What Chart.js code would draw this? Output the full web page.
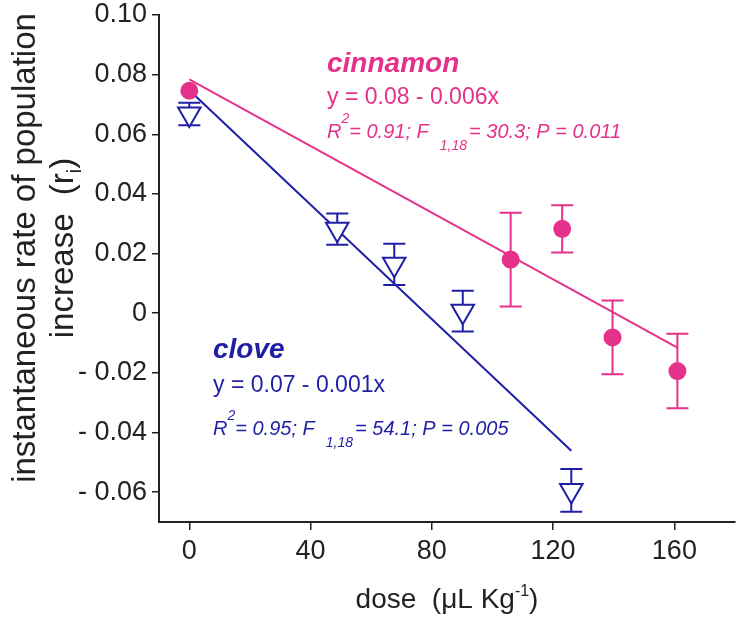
<!DOCTYPE html>
<html>
<head>
<meta charset="utf-8">
<script src="https://cdn.jsdelivr.net/npm/chart.js@4"></script>
<style>
  html, body { margin: 0; padding: 0; background: #fff; }
  #wrap { width: 750px; height: 624px; }
</style>
</head>
<body>
<div id="wrap"><canvas id="chart" width="750" height="624"></canvas></div>
<script>
// values
const cinnamonDose = [0, 106, 123, 139.6, 161];
const cinnamonR = [0.0746, 0.018, 0.0283, -0.0081, -0.0194];
const cinnamonErr = [0, 0.0157, 0.0079, 0.0124, 0.0125];
const cloveDose = [0, 48.8, 67.6, 90.2, 126];
const cloveR = [0.0668, 0.0282, 0.0164, 0.0007, -0.0594];
const cloveErr = [0.0038, 0.0052, 0.0069, 0.0068, 0.0072];
// regression lines (end points)
const cinnamonFitX = [0, 161];
const cinnamonFitY = [0.0784, -0.0115];
const cloveFitX = [0, 126];
const cloveFitY = [0.0748, -0.0461];
const xTicks = [0, 40, 80, 120, 160];
const yTicks = [-0.06, -0.04, -0.02, 0, 0.02, 0.04, 0.06, 0.08, 0.10];
const yTickLabels = ["- 0.06", "- 0.04", "- 0.02", "0", "0.02", "0.04", "0.06", "0.08", "0.10"];

const pink = "#e5318a";
const blue = "#1f1fa6";
const ink = "#222";
const family = "'Liberation Sans', Arial, sans-serif";

function pts(xs, ys) {
  return xs.map((x, i) => ({ x: x, y: ys[i] }));
}

function runsWidth(ctx, runs) {
  let w = 0;
  runs.forEach(r => {
    ctx.font = r.font;
    w += (r.dx || 0) + ctx.measureText(r.t).width;
  });
  return w;
}

function drawRuns(ctx, x, y, runs, color) {
  ctx.fillStyle = color;
  ctx.textBaseline = "alphabetic";
  ctx.textAlign = "left";
  runs.forEach(r => {
    ctx.font = r.font;
    x += r.dx || 0;
    ctx.fillText(r.t, x, y + (r.dy || 0));
    x += ctx.measureText(r.t).width;
  });
}

function statRuns(r2, f, p) {
  const it = "italic 20px " + family;
  const small = "italic 14px " + family;
  return [
    { t: "R", font: it },
    { t: "2", font: small, dy: -15 },
    { t: "= " + r2 + "; F  ", font: it },
    { t: "1,18", font: small, dy: 12 },
    { t: "= " + f + "; P = " + p, font: it, dx: 2 }
  ];
}

const errorBars = {
  id: "errorBars",
  beforeDatasetsDraw(chart) {
    const ctx = chart.ctx, xs = chart.scales.x, ys = chart.scales.y;
    function draw(doses, vals, errs, color) {
      ctx.save();
      ctx.strokeStyle = color;
      ctx.lineWidth = 2;
      doses.forEach((d, i) => {
        if (!errs[i]) return;
        const px = xs.getPixelForValue(d);
        const top = ys.getPixelForValue(vals[i] + errs[i]);
        const bot = ys.getPixelForValue(vals[i] - errs[i]);
        ctx.beginPath();
        ctx.moveTo(px, top); ctx.lineTo(px, bot);
        ctx.moveTo(px - 11, top); ctx.lineTo(px + 11, top);
        ctx.moveTo(px - 11, bot); ctx.lineTo(px + 11, bot);
        ctx.stroke();
      });
      ctx.restore();
    }
    draw(cinnamonDose, cinnamonR, cinnamonErr, pink);
    draw(cloveDose, cloveR, cloveErr, blue);
  }
};

const labels = {
  id: "labels",
  afterDraw(chart) {
    const ctx = chart.ctx;
    ctx.save();
    drawRuns(ctx, 327, 72, [{ t: "cinnamon", font: "italic bold 28px " + family }], pink);
    drawRuns(ctx, 327, 104, [{ t: "y = 0.08 - 0.006x", font: "23px " + family }], pink);
    drawRuns(ctx, 327, 138, statRuns("0.91", "30.3", "0.011"), pink);
    drawRuns(ctx, 213, 358, [{ t: "clove", font: "italic bold 28px " + family }], blue);
    drawRuns(ctx, 213, 392, [{ t: "y = 0.07 - 0.001x", font: "23px " + family }], blue);
    drawRuns(ctx, 213, 435, statRuns("0.95", "54.1", "0.005"), blue);

    // x axis title
    const xt = [
      { t: "dose  (\u03bcL Kg", font: "28px " + family },
      { t: "-1", font: "16px " + family, dy: -12 },
      { t: ")", font: "28px " + family }
    ];
    const cx = (chart.chartArea.left + chart.chartArea.right) / 2;
    drawRuns(ctx, cx - runsWidth(ctx, xt) / 2, 608, xt, ink);

    // y axis title, two lines
    const l1 = [{ t: "instantaneous rate of population", font: "33px " + family }];
    const l2 = [
      { t: "increase  (r", font: "33px " + family },
      { t: "i", font: "20px " + family, dy: 8 },
      { t: ")", font: "33px " + family }
    ];
    ctx.translate(0, 248);
    ctx.rotate(-Math.PI / 2);
    drawRuns(ctx, -runsWidth(ctx, l1) / 2, 35, l1, ink);
    drawRuns(ctx, -runsWidth(ctx, l2) / 2, 73, l2, ink);
    ctx.restore();
  }
};

new Chart(document.getElementById("chart").getContext("2d"), {
  type: "scatter",
  data: {
    datasets: [
      {
        label: "cinnamon",
        data: pts(cinnamonDose, cinnamonR),
        pointStyle: "circle",
        pointRadius: 9,
        backgroundColor: pink,
        borderColor: pink,
        borderWidth: 0,
        order: 0
      },
      {
        label: "clove",
        data: pts(cloveDose, cloveR),
        pointStyle: "triangle",
        rotation: 180,
        pointRadius: 13,
        backgroundColor: "#fff",
        borderColor: blue,
        borderWidth: 2,
        order: 1
      },
      {
        label: "cinnamon fit",
        data: pts(cinnamonFitX, cinnamonFitY),
        showLine: true,
        pointRadius: 0,
        borderColor: pink,
        borderWidth: 2,
        order: 2
      },
      {
        label: "clove fit",
        data: pts(cloveFitX, cloveFitY),
        showLine: true,
        pointRadius: 0,
        borderColor: blue,
        borderWidth: 2,
        order: 3
      }
    ]
  },
  options: {
    responsive: false,
    animation: false,
    layout: { padding: { top: 12, right: 2, left: 0, bottom: 0 } },
    plugins: { legend: { display: false }, tooltip: { enabled: false } },
    scales: {
      x: {
        type: "linear",
        min: -10,
        max: 180,
        afterBuildTicks: s => { s.ticks = xTicks.map(v => ({ value: v })); },
        afterFit: s => { s.height = 102; s.paddingLeft = 0; s.paddingRight = 0; },
        grid: { drawOnChartArea: false, tickLength: 8, color: ink, lineWidth: 1.5 },
        border: { color: ink, width: 2 },
        ticks: { color: ink, font: { family: family, size: 27 }, padding: 5, maxRotation: 0 }
      },
      y: {
        type: "linear",
        min: -0.07,
        max: 0.10,
        afterBuildTicks: s => { s.ticks = yTicks.map(v => ({ value: v })); },
        afterFit: s => { s.width = 159; s.paddingTop = 0; s.paddingBottom = 0; },
        grid: { drawOnChartArea: false, tickLength: 7, color: ink, lineWidth: 1.5 },
        border: { color: ink, width: 2 },
        ticks: {
          color: ink,
          font: { family: family, size: 27 },
          padding: 5,
          callback: (v, i) => yTickLabels[i]
        }
      }
    }
  },
  plugins: [errorBars, labels]
});
</script>
</body>
</html>
